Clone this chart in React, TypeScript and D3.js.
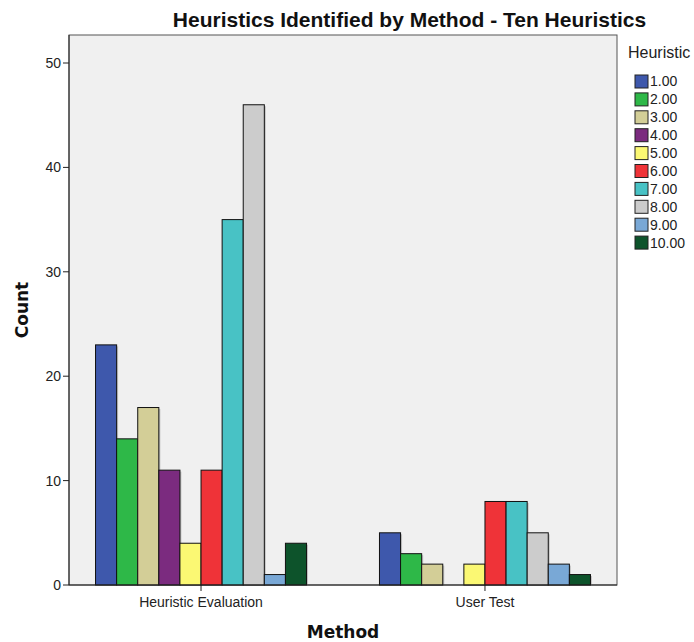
import React from "react";
import * as d3 from "d3";

const methods = ["Heuristic Evaluation", "User Test"];
const heuristics = ["1.00", "2.00", "3.00", "4.00", "5.00", "6.00", "7.00", "8.00", "9.00", "10.00"];
const heuristicEvaluation = [23, 14, 17, 11, 4, 11, 35, 46, 1, 4];
const userTest = [5, 3, 2, 0, 2, 8, 8, 5, 2, 1];
const colors = ["#3e58ac", "#2eb848", "#d3ce97", "#7b2b7f", "#fbf873", "#ef3338", "#48c2c5", "#cccccc", "#79a8d6", "#0d532b"];
const yTicks = [0, 10, 20, 30, 40, 50];

const W = 694, H = 642;
const left = 69, right = 617, top = 35, bottom = 585;

export default function App() {
  const series = [heuristicEvaluation, userTest];
  const y = d3.scaleLinear().domain([0, 50]).range([bottom, 63]);
  const x0 = d3.scalePoint<string>().domain(methods).range([left, right]).padding(0.465);
  const groupW = 211;
  const x1 = d3.scaleBand<string>().domain(heuristics).range([-groupW / 2, groupW / 2]).padding(0);
  const font = "'Liberation Sans', Arial, sans-serif";
  const boldFont = "'DejaVu Sans', Verdana, sans-serif";
  return (
    <svg width={W} height={H} style={{ position: "absolute", left: 0, top: 0 }} fontFamily={font}>
      <rect x={0} y={0} width={W} height={H} fill="#fff" />
      <rect x={left} y={top} width={right - left} height={bottom - top} fill="#f0f0f0" stroke="#555" strokeWidth={1} />
      {methods.map((m, mi) =>
        series[mi].map((v, i) =>
          v > 0 ? (
            <g key={m + i}>
              <rect
                x={x0(m)! + x1(heuristics[i])! + 1.5}
                y={y(v) + 1.5}
                width={x1.bandwidth()}
                height={bottom - y(v) - 1.5}
                fill="#999"
                opacity={0.5}
              />
              <rect
                x={x0(m)! + x1(heuristics[i])!}
                y={y(v)}
                width={x1.bandwidth()}
                height={bottom - y(v)}
                fill={colors[i]}
                stroke="#111"
                strokeWidth={1}
              />
            </g>
          ) : null
        )
      )}
      <line x1={left} x2={left} y1={top} y2={bottom} stroke="#222" />
      <line x1={left} x2={right} y1={bottom} y2={bottom} stroke="#222" />
      {yTicks.map((t) => (
        <g key={t}>
          <line x1={left - 6} x2={left} y1={y(t)} y2={y(t)} stroke="#222" />
          <text x={left - 8} y={y(t)} dy="0.35em" textAnchor="end" fontSize={14} fill="#222">{t}</text>
        </g>
      ))}
      {methods.map((m) => (
        <g key={m}>
          <line x1={x0(m)!} x2={x0(m)!} y1={bottom} y2={bottom + 6} stroke="#222" />
          <text x={x0(m)!} y={bottom + 22} textAnchor="middle" fontSize={14} fill="#222">{m}</text>
        </g>
      ))}
      <text x={409.5} y={27} textAnchor="middle" fontSize={21} fontWeight="bold" fill="#111">
        Heuristics Identified by Method - Ten Heuristics
      </text>
      <text transform={`translate(28,${(top + bottom) / 2}) rotate(-90)`} textAnchor="middle" fontSize={17} fontWeight="bold" fill="#111" fontFamily={boldFont}>Count</text>
      <text x={343} y={638} textAnchor="middle" fontSize={17} fontWeight="bold" fill="#111" fontFamily={boldFont}>Method</text>
      <text x={628} y={58} fontSize={16} fill="#222">Heuristic</text>
      {heuristics.map((h, i) => (
        <g key={h} transform={`translate(635,${81.5 + i * 17.9})`}>
          <rect x={0} y={-6.5} width={13} height={13} fill={colors[i]} stroke="#222" />
          <text x={15} y={0} dy="0.35em" fontSize={14} fill="#222">{h}</text>
        </g>
      ))}
    </svg>
  );
}
